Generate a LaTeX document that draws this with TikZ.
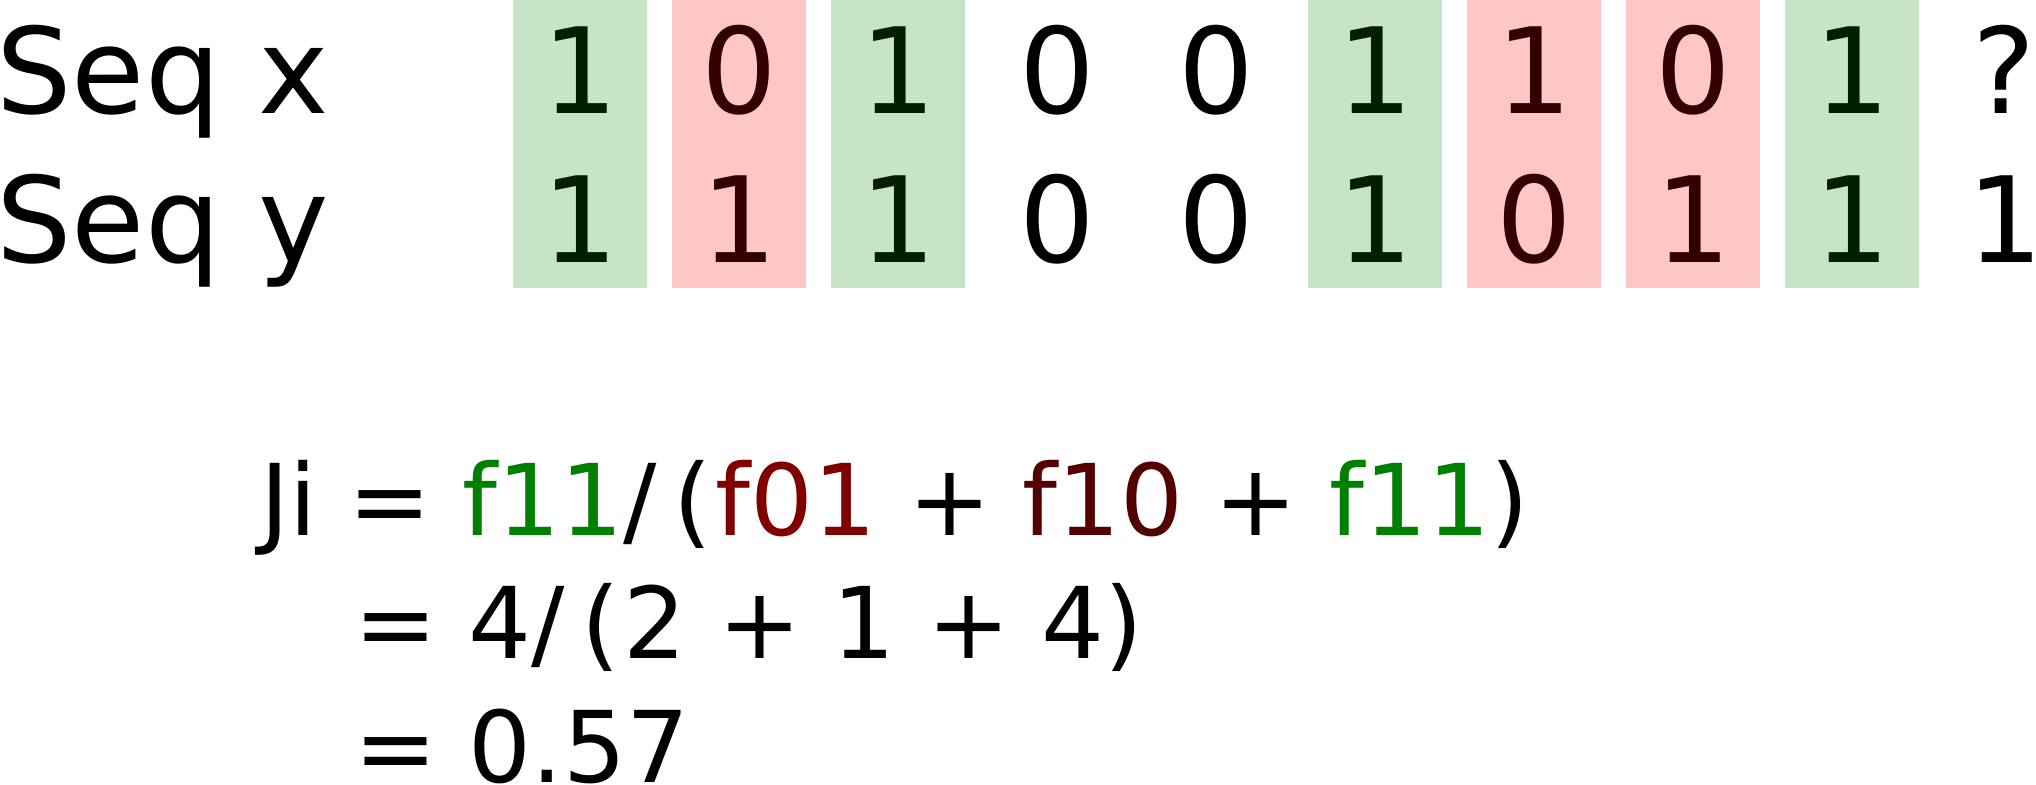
\documentclass[tikz,border=0pt]{standalone}
\usepackage{xcolor}
\usepackage{fontspec}
\setmainfont{DejaVu Sans}
\usepackage{tikz}
\usetikzlibrary{positioning}
\definecolor{hitgreen}{HTML}{C6E4C6}
\definecolor{missred}{HTML}{FFC6C6}
\definecolor{hitdigit}{HTML}{002000}
\definecolor{missdigit}{HTML}{330000}
\definecolor{fone}{HTML}{008000}
\definecolor{fzeroone}{HTML}{800000}
\definecolor{fonezero}{HTML}{550000}
\newcommand{\jiparen}{\kern8pt(\kern2pt}
\tikzset{seqfont/.style={font=\fontsize{59.5}{70}\selectfont, inner sep=0pt},
  seqlabel/.style={seqfont, anchor=base west},
  seqbit/.style={seqfont, anchor=base},
  hitbit/.style={seqbit, text=hitdigit},
  missbit/.style={seqbit, text=missdigit},
  hitbox/.style={fill=hitgreen},
  missbox/.style={fill=missred},
  eqline/.style={font=\fontsize{49.5}{60}\selectfont, inner sep=0pt, anchor=base west}}

\begin{document}
\begin{tikzpicture}[x=0.5pt,y=-0.5pt]
\useasboundingbox (0,0) rectangle (2036,784);
% columns where the two sequences agree (green) or differ (red)
\fill[hitbox] (513,0) rectangle (647,288);
\fill[missbox] (672,0) rectangle (806,288);
\fill[hitbox] (831,0) rectangle (965,288);
\fill[hitbox] (1308,0) rectangle (1442,288);
\fill[missbox] (1467,0) rectangle (1601,288);
\fill[missbox] (1626,0) rectangle (1760,288);
\fill[hitbox] (1785,0) rectangle (1919,288);
\node[seqlabel] (seqx) at (-4,113) {Seq x};
\node[seqlabel] (seqy) at (-4,262) {Seq y};
\node[hitbit] (x1) at (580,113) {1};   \node[hitbit] (y1) at (580,262) {1};
\node[missbit] (x2) at (739,113) {0};  \node[missbit] (y2) at (739,262) {1};
\node[hitbit] (x3) at (898,113) {1};   \node[hitbit] (y3) at (898,262) {1};
\node[seqbit] (x4) at (1057,113) {0};  \node[seqbit] (y4) at (1057,262) {0};
\node[seqbit] (x5) at (1216,113) {0};  \node[seqbit] (y5) at (1216,262) {0};
\node[hitbit] (x6) at (1375,113) {1};  \node[hitbit] (y6) at (1375,262) {1};
\node[missbit] (x7) at (1534,113) {1}; \node[missbit] (y7) at (1534,262) {0};
\node[missbit] (x8) at (1693,113) {0}; \node[missbit] (y8) at (1693,262) {1};
\node[hitbit] (x9) at (1852,113) {1};  \node[hitbit] (y9) at (1852,262) {1};
\node[seqbit] (x10) at (2004,113) {?}; \node[seqbit] (y10) at (2005,262) {1};
% Jaccard index
\node[eqline] (jiline) at (260,535) {Ji = \textcolor{fone}{f11}/\jiparen\textcolor{fzeroone}{f01} + \textcolor{fonezero}{f10} + \textcolor{fone}{f11})};
\node[eqline] (sumline) at (354,658) {= 4/\jiparen 2 + 1 + 4)};
\node[eqline] (resline) at (354,782) {= 0.57};
\end{tikzpicture}
\end{document}
